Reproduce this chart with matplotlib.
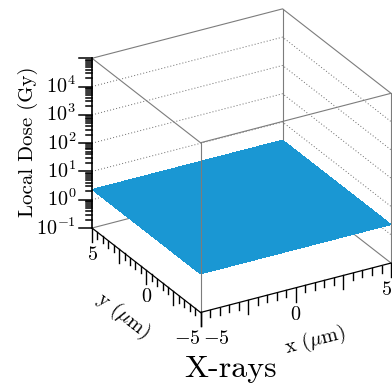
import numpy as np
import matplotlib
matplotlib.use('Agg')
import matplotlib.pyplot as plt
from mpl_toolkits.mplot3d import proj3d

plt.rcParams['mathtext.fontset'] = 'cm'
plt.rcParams['font.family'] = ['cmr10', 'DejaVu Serif']
plt.rcParams['axes.unicode_minus'] = False

# --- data -------------------------------------------------------------
x_um = [-5.0, 0.0, 5.0]
y_um = [-5.0, 0.0, 5.0]
dose_gy = [[2.3, 2.3, 2.3],
           [2.3, 2.3, 2.3],
           [2.3, 2.3, 2.3]]
z_decades = [-1, 0, 1, 2, 3, 4, 5]
z_ticklabels = ['$10^{-1}$', '$10^{0}$', '$10^{1}$', '$10^{2}$', '$10^{3}$', '$10^{4}$', '']
x_labeled = [-5, 0, 5]
y_labeled = [-5, 0, 5]
x_major = [-5, -2.5, 0, 2.5, 5]
y_major = [-5, -2.5, 0, 2.5, 5]
minor_step = 0.5
title = 'X-rays'

# --- view ---------------------------------------------------------------
elev, azim = 26.7, -120.0
aspect = (220, 217, 190)  # box edge lengths in px
fig = plt.figure(figsize=(3.92, 3.88), dpi=100)
fig.patch.set_facecolor('white')
ax = fig.add_axes([0.1079, 0.0724, 0.9898, 1.0], projection='3d', computed_zorder=False)
ax.set_proj_type('ortho')
ax.view_init(elev=elev, azim=azim)
ax.set_box_aspect(aspect, zoom=0.9076)

x0, x1 = x_um[0], x_um[-1]
y0, y1 = y_um[0], y_um[-1]
z0, z1 = z_decades[0], z_decades[-1]
ax.set_xlim(x0, x1); ax.set_ylim(y0, y1); ax.set_zlim(z0, z1)
ax.set_axis_off()
M = ax.get_proj()

# data units per screen pixel
a = np.deg2rad(azim)
px_x = (x1 - x0) / aspect[0]
px_y = (y1 - y0) / aspect[1]
px_z = (z1 - z0) / aspect[2] / np.cos(np.deg2rad(elev))
left_dx = np.sin(a) * px_x          # horizontal "left" on screen
left_dy = -np.cos(a) * px_y

grey = '#7c7c7c'
def seg(p, q, **kw):
    ax.plot([p[0], q[0]], [p[1], q[1]], [p[2], q[2]], **kw)

def proj(x, y, z):
    px, py, _ = proj3d.proj_transform(x, y, z, M)
    return px, py

def label(x, y, z, s, **kw):
    px, py = proj(x, y, z)
    ax.text2D(px, py, s, transform=ax.transData, **kw)

def angle_of(p, q):
    (ax_, ay_), (bx_, by_) = proj(*p), proj(*q)
    return np.degrees(np.arctan2(by_ - ay_, bx_ - ax_))

# back edges and grid (hidden by surface where it covers them)
back = dict(color=grey, lw=0.8, zorder=1)
seg((x0, y1, z0), (x1, y1, z0), **back)
seg((x1, y1, z0), (x1, y0, z0), **back)
seg((x1, y1, z0), (x1, y1, z1), **back)
for d in z_decades[1:-1]:
    ax.plot([x0, x1, x1], [y1, y1, y0], [d, d, d], color='#6a6a6a', lw=0.7,
            ls=(0, (1.0, 2.2)), zorder=1)

# surface
X, Y = np.meshgrid(x_um, y_um)
Z = np.log10(np.array(dose_gy))
ax.plot_surface(X, Y, Z, color='#1a97d3', shade=False, linewidth=0,
                antialiased=False, zorder=2)

# front / top edges
front = dict(color=grey, lw=0.8, zorder=3)
seg((x0, y0, z0), (x0, y0, z1), **front)
seg((x1, y0, z0), (x1, y0, z1), **front)
ax.plot([x0, x0, x1, x1, x0], [y1, y0, y0, y1, y1], [z1] * 5, **front)

# axis lines
axl = dict(color='black', lw=0.9, zorder=4)
seg((x0, y1, z0), (x0, y1, z1), color='black', lw=1.2, zorder=4)
seg((x0, y0, z0), (x1, y0, z0), **axl)
seg((x0, y0, z0), (x0, y1, z0), **axl)

# z ticks (log)
for d in z_decades:
    L = 13
    seg((x0, y1, d), (x0 + L * left_dx, y1 + L * left_dy, d), color='black', lw=1.1, zorder=4)
    if d < z1:
        for m in range(2, 10):
            zz = d + np.log10(m)
            L = 6
            seg((x0, y1, zz), (x0 + L * left_dx, y1 + L * left_dy, zz), color='black', lw=1.1, zorder=4)

# x / y ticks hanging down
n_minor = int(round((x1 - x0) / minor_step)) + 1
for i in range(n_minor):
    t = x0 + i * minor_step
    L = 14 if t in x_major else 7
    seg((t, y0, z0), (t, y0, z0 - L * px_z), color='black', lw=1.0, zorder=4)
for i in range(n_minor):
    t = y0 + i * minor_step
    L = 14 if t in y_major else 7
    seg((x0, t, z0), (x0, t, z0 - L * px_z), color='black', lw=1.0, zorder=4)

# tick labels
fs = 14.5
for d, lab in zip(z_decades, z_ticklabels):
    if lab:
        label(x0 + 16 * left_dx, y1 + 16 * left_dy, d - 6.5 * px_z, lab,
              ha='right', va='baseline', fontsize=fs)
for t in x_labeled:
    if t == x0:
        ha, shift = 'left', 3 * px_x
    elif t == x1:
        ha, shift = 'right', 1 * px_x
    else:
        ha, shift = 'center', 0
    label(t + shift, y0, z0 - 27 * px_z, f'${t:g}$', ha=ha, va='center', fontsize=fs)
for t in y_labeled:
    ha = 'right' if t == y0 else 'center'
    label(x0, t, z0 - 27 * px_z, f'${t:g}$', ha=ha, va='center', fontsize=fs)

# axis labels
rot_x = angle_of((x0, y0, z0), (x1, y0, z0))
rot_y = angle_of((x0, y0, z0), (x0, y1, z0)) - 180
label(1.0, y0, z0 - 58 * px_z, 'x ($\\mu$m)', rotation=rot_x, rotation_mode='anchor',
      ha='center', va='center', fontsize=fs)
label(x0, 2.2, z0 - 64 * px_z, 'y ($\\mu$m)', rotation=rot_y, rotation_mode='anchor',
      ha='center', va='center', fontsize=fs)
fig.text(28 / 392, 1 - 142 / 388, 'Local Dose (Gy)', rotation=90, ha='center', va='center', fontsize=15)
fig.text(231 / 392, 11 / 388, title, ha='center', va='baseline', fontsize=23)

fig.savefig('out.png', dpi=100, facecolor='white')
